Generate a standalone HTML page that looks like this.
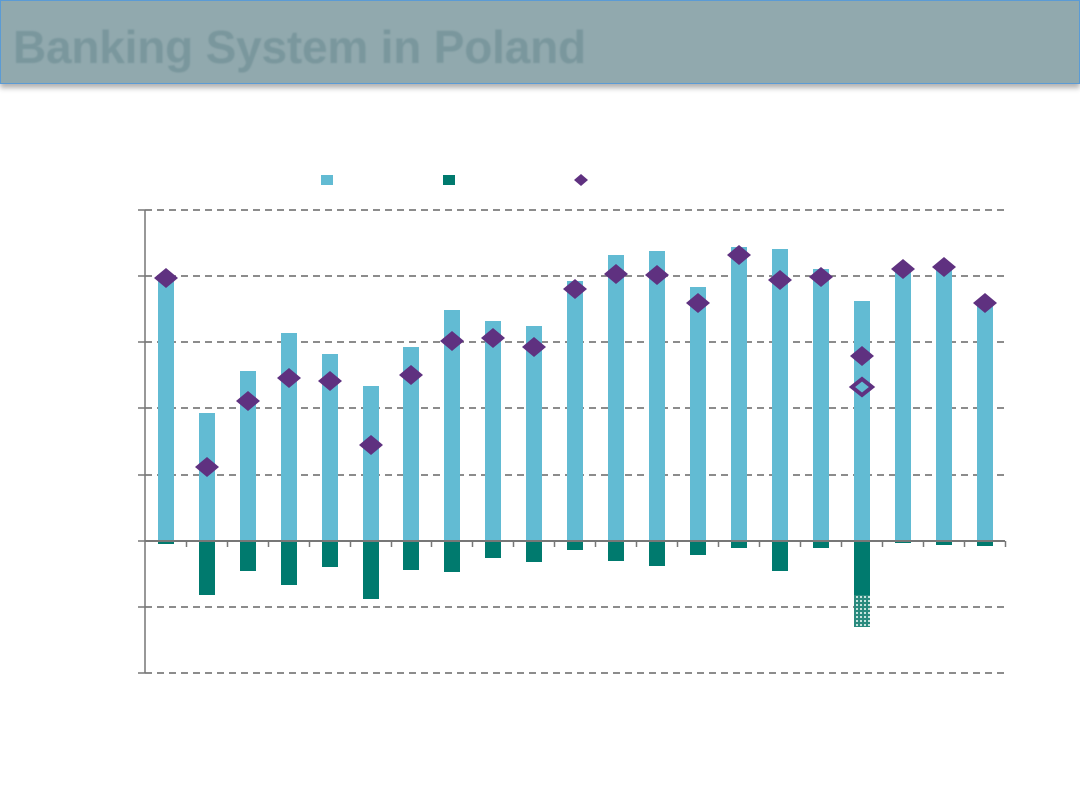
<!DOCTYPE html><html><head><style>body{margin:0;width:1080px;height:810px;background:#fff;overflow:hidden}
.t{position:absolute;left:0;top:0;width:1078px;height:82px;background:#91a9ae;border:1px solid #5b9bd5;box-shadow:0 4px 5px rgba(0,0,0,.3);}
.t span{position:absolute;left:12px;top:19px;font:bold 46px "Liberation Sans",sans-serif;color:#7a979d;letter-spacing:-0.2px;filter:blur(0.7px);white-space:nowrap}
</style></head><body><div class="t"><span>Banking System in Poland</span></div>
<svg width="1080" height="810" style="position:absolute;left:0;top:0">
<defs><pattern id="h" width="4" height="4" patternUnits="userSpaceOnUse"><rect width="4" height="4" fill="#2a8a7e"/><rect width="2" height="2" fill="#c8e4df"/></pattern></defs>
<g stroke="#666" stroke-width="1.5" stroke-dasharray="7,5">
<line x1="145" x2="1005" y1="210" y2="210"/><line x1="145" x2="1005" y1="276" y2="276"/><line x1="145" x2="1005" y1="342" y2="342"/><line x1="145" x2="1005" y1="408" y2="408"/><line x1="145" x2="1005" y1="475" y2="475"/><line x1="145" x2="1005" y1="607" y2="607"/><line x1="145" x2="1005" y1="673" y2="673"/></g>
<g stroke="#777" stroke-width="1.5"><line x1="145" x2="145" y1="210" y2="673"/>
<line x1="138" x2="145" y1="210" y2="210"/><line x1="138" x2="145" y1="276" y2="276"/><line x1="138" x2="145" y1="342" y2="342"/><line x1="138" x2="145" y1="408" y2="408"/><line x1="138" x2="145" y1="475" y2="475"/><line x1="138" x2="145" y1="541" y2="541"/><line x1="138" x2="145" y1="607" y2="607"/><line x1="138" x2="145" y1="673" y2="673"/></g>
<g id="b"></g>
<rect x="321" y="175" width="12" height="10" fill="#62bbd3"/><rect x="443" y="175" width="12" height="10" fill="#007a6e"/><polygon points="574,180 581,174 588,180 581,186" fill="#5f3180"/>
</svg>
<script>
var c=[166,207,248,289,330,371,411,452,493,534,575,616,657,698,739,780,821,862,903,944,985];
var top_=[280,413,371,333,354,386,347,310,321,326,281,255,251,287,247,249,269,301,270,268,304];
var bot=[544,595,571,585,567,599,570,572,558,562,550,561,566,555,548,571,548,595,543,545,546];
var d=[278,467,401,378,381,445,375,341,338,347,289,274,275,303,255,280,277,356,269,267,303];
var s='';
for(var i=0;i<21;i++){var x=c[i];
s+='<rect x="'+(x-8)+'" y="'+top_[i]+'" width="16" height="'+(541-top_[i])+'" fill="#62bbd3"/>';
s+='<rect x="'+(x-8)+'" y="541" width="16" height="'+(bot[i]-541)+'" fill="#007a6e"/>';}
s+='<rect x="854" y="595" width="16" height="32" fill="url(#h)"/>';
s+='<line x1="145" x2="1005" y1="541" y2="541" stroke="#777" stroke-width="2"/>';
for(var i=0;i<21;i++){var tx=c[i]+20.5;s+='<line x1="'+tx+'" x2="'+tx+'" y1="541" y2="547" stroke="#777" stroke-width="1.5"/>';}
for(var i=0;i<21;i++){var x=c[i],y=d[i];s+='<polygon points="'+(x-12)+','+y+' '+x+','+(y-10)+' '+(x+12)+','+y+' '+x+','+(y+10)+'" fill="#5f3180"/>';}
s+='<polygon points="852,387 862,379 872,387 862,395" fill="none" stroke="#5f3180" stroke-width="4"/>';
document.getElementById('b').innerHTML=s;
</script></body></html>
